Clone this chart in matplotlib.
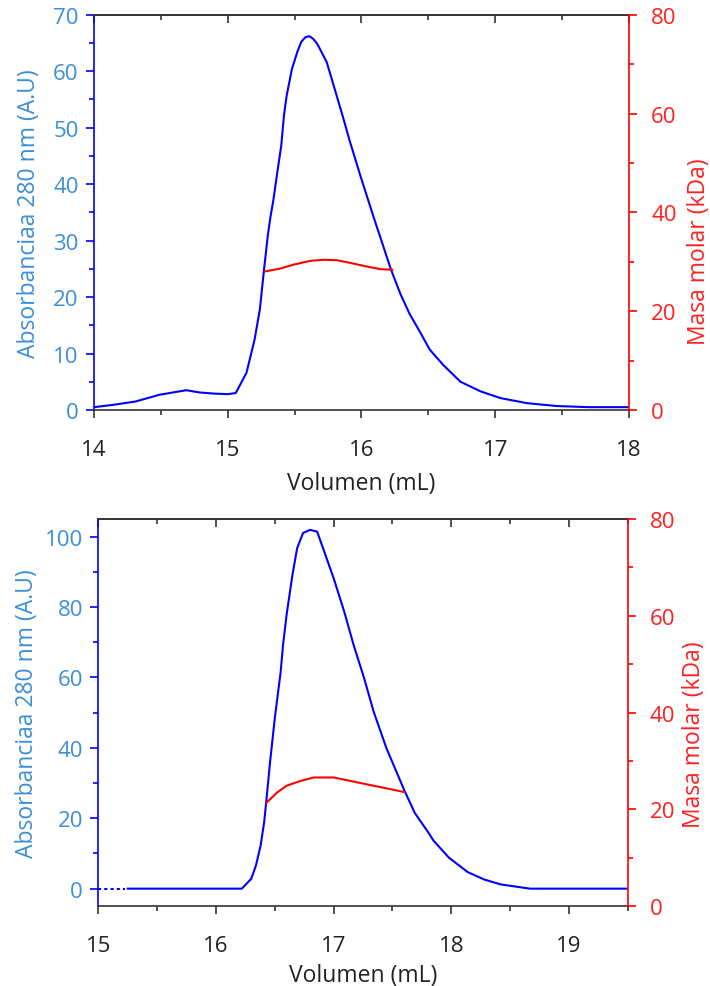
import numpy as np
import matplotlib
matplotlib.use("Agg")
from matplotlib import pyplot as plt
from matplotlib.ticker import MultipleLocator

# panel 1 (top) - absorbance trace
vol_top = [14.0, 14.14, 14.31, 14.49, 14.69, 14.79, 14.9, 15.0, 15.06, 15.14, 15.2, 15.24,
           15.27, 15.30, 15.32, 15.34, 15.37, 15.40, 15.42, 15.44, 15.48, 15.52, 15.55, 15.58,
           15.61, 15.64, 15.67, 15.74, 15.79, 15.86, 15.91, 15.99, 16.09, 16.16, 16.22, 16.29,
           16.36, 16.44, 16.51, 16.61, 16.74, 16.89, 17.04, 17.24, 17.46, 17.7, 18.0]
abs_top = [0.5, 0.9, 1.5, 2.7, 3.5, 3.1, 2.9, 2.8, 3.0, 6.6, 12.4, 17.8,
           24.6, 31.0, 34.3, 37.0, 42.0, 46.8, 52.1, 55.6, 60.4, 63.4, 65.2, 66.0,
           66.2, 65.7, 64.8, 61.6, 57.6, 52.0, 47.8, 41.6, 34.2, 29.2, 24.9, 20.6,
           17.0, 13.7, 10.7, 8.0, 5.0, 3.3, 2.1, 1.2, 0.7, 0.5, 0.5]
# panel 1 - molar mass
vol_top_mm = [15.28, 15.39, 15.49, 15.62, 15.72, 15.82, 15.91, 16.01, 16.14, 16.23]
mass_top = [28.05, 28.6, 29.4, 30.2, 30.4, 30.3, 29.8, 29.2, 28.5, 28.4]

# panel 2 (bottom) - absorbance trace
vol_bot = [15.25, 16.22, 16.30, 16.34, 16.38, 16.41, 16.43, 16.46, 16.50, 16.55, 16.57, 16.60,
           16.65, 16.69, 16.74, 16.80, 16.86, 16.91, 17.00, 17.09, 17.17, 17.26, 17.34, 17.45,
           17.60, 17.69, 17.80, 17.85, 17.98, 18.14, 18.28, 18.42, 18.67, 19.5]
abs_bot = [0, 0, 2.8, 6.6, 12.3, 19.0, 25.6, 36.0, 48.4, 61.6, 69.2, 77.7,
           89.1, 96.7, 101.0, 101.9, 101.4, 96.7, 88.2, 78.7, 69.2, 59.7, 50.3, 39.8,
           28.0, 21.5, 16.2, 13.6, 8.8, 4.7, 2.6, 1.2, 0.0, 0.0]
vol_bot_dots = [15.0, 15.23]
abs_bot_dots = [0, 0]
# panel 2 - molar mass
vol_bot_mm = [16.43, 16.52, 16.60, 16.72, 16.83, 17.00, 17.14, 17.34, 17.48, 17.60]
mass_bot = [21.4, 23.5, 24.9, 25.9, 26.6, 26.6, 25.9, 24.9, 24.2, 23.6]

plt.rcParams["font.family"] = ["Open Sans", "DejaVu Sans"]

blue_txt = "#3b8fd6"
dark = "#333333"

fig = plt.figure(figsize=(7.1, 9.87), dpi=100)


def panel(rect, xlim, ylim, ystep, xvals, yvals, xmm, ymm, ylab_x, y2lab_pos, xlabpad):
    ax = fig.add_axes(rect)
    ax.plot(xvals, yvals, color="#0000ff", lw=1.5)
    ax.set_xlim(xlim)
    ax.set_ylim(ylim)
    ax.xaxis.set_major_locator(MultipleLocator(1))
    ax.xaxis.set_minor_locator(MultipleLocator(0.5))
    ax.yaxis.set_major_locator(MultipleLocator(ystep))
    ax.yaxis.set_minor_locator(MultipleLocator(ystep / 2))
    ax.spines["left"].set_color("#0000ff")
    ax.spines["right"].set_visible(False)
    ax.spines["top"].set_color(dark)
    ax.spines["bottom"].set_color(dark)
    for s in ax.spines.values():
        s.set_linewidth(1.2)
    ax.tick_params(axis="y", which="both", colors="#0000ff", labelcolor=blue_txt,
                   labelsize=16, direction="out", pad=5)
    ax.tick_params(axis="y", which="major", length=6, width=1.2)
    ax.tick_params(axis="y", which="minor", length=3.5, width=1.2)
    ax.tick_params(axis="x", which="both", colors=dark, labelcolor="#222222",
                   labelsize=16, direction="out", pad=15)
    ax.tick_params(axis="x", which="major", length=6, width=1.2)
    ax.tick_params(axis="x", which="minor", length=3.5, width=1.2)
    ax.set_xlabel("Volumen (mL)", fontsize=16.5, color="#222222", labelpad=xlabpad)
    ax.set_ylabel("Absorbanciaa 280 nm (A.U)", fontsize=16.5, color=blue_txt)
    ax.yaxis.set_label_coords(ylab_x, 0.5)

    top = ax.secondary_xaxis("top")
    top.xaxis.set_major_locator(MultipleLocator(1))
    top.xaxis.set_minor_locator(MultipleLocator(0.5))
    top.tick_params(which="both", direction="in", labeltop=False, colors=dark, width=1.2)
    top.tick_params(which="major", length=6)
    top.tick_params(which="minor", length=3.5)
    top.spines["top"].set_color(dark)
    top.spines["top"].set_linewidth(1.2)

    ax2 = ax.twinx()
    ax2.plot(xmm, ymm, color="#ff0000", lw=1.5)
    ax2.set_ylim(0, 80)
    ax2.yaxis.set_major_locator(MultipleLocator(20))
    ax2.yaxis.set_minor_locator(MultipleLocator(10))
    for side in ["left", "top", "bottom"]:
        ax2.spines[side].set_visible(False)
    ax2.spines["right"].set_color("#ff0000")
    ax2.spines["right"].set_linewidth(1.2)
    ax2.tick_params(axis="y", which="both", colors="#ff0000", labelcolor="#ff2020",
                    labelsize=16, direction="out", pad=10, width=1.2)
    ax2.tick_params(axis="y", which="major", length=6)
    ax2.tick_params(axis="y", which="minor", length=3.5)
    ax2.set_ylabel("Masa molar (kDa)", fontsize=16.5, color="#ff2020")
    ax2.yaxis.set_label_coords(*y2lab_pos)
    return ax, ax2


ax_a, ax_a2 = panel([0.1324, 0.5836, 0.7535, 0.4005], (14, 18), (0, 70), 10,
                    vol_top, abs_top, vol_top_mm, mass_top, -0.0993, (1.108, 0.402), 8)
ax_b, ax_b2 = panel([0.1385, 0.0808, 0.7456, 0.3924], (15, 19.5), (-5, 105), 20,
                    vol_bot, abs_bot, vol_bot_mm, mass_bot, -0.112, (1.102, 0.445), 4.5)
ax_b.plot(vol_bot_dots, abs_bot_dots, color="#0000ff", lw=1.5, ls=(0, (1.5, 1.5)))

fig.savefig("out.png", dpi=100)
